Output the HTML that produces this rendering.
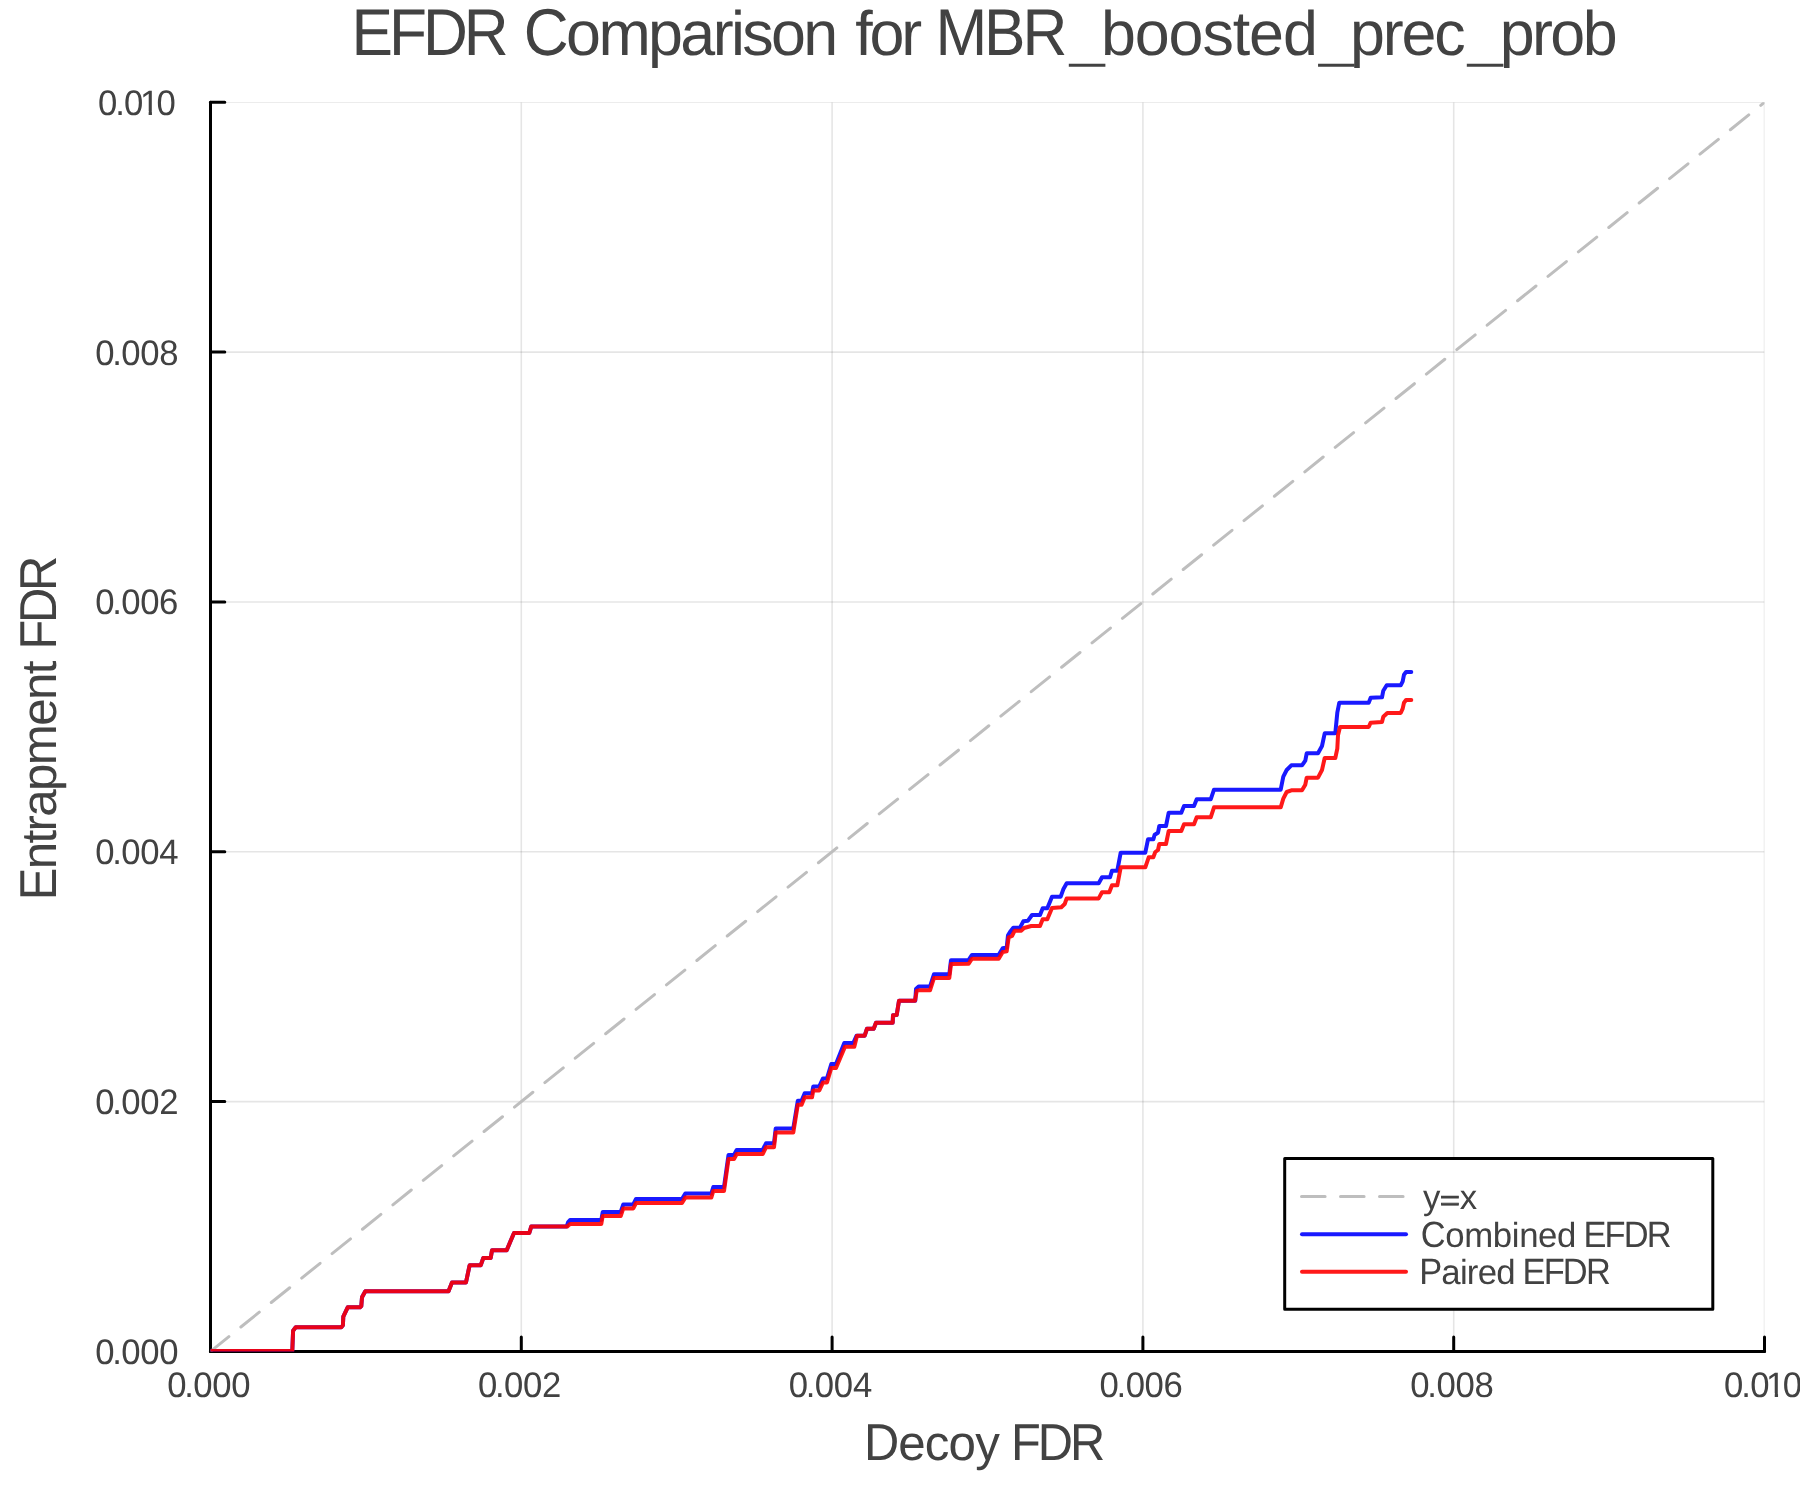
<!DOCTYPE html>
<html><head><meta charset="utf-8"><title>EFDR Comparison for MBR_boosted_prec_prob</title>
<style>html,body{margin:0;padding:0;background:#fff;overflow:hidden;}svg{display:block;font-family:"Liberation Sans",sans-serif;text-rendering:geometricPrecision;}</style></head><body>
<svg width="1800" height="1500" viewBox="0 0 1800 1500">
<rect width="1800" height="1500" fill="#ffffff"/>
<defs><clipPath id="pc"><rect x="210.5" y="102.3" width="1554.0" height="1249.1"/></clipPath>
<clipPath id="one"><path d="M-2 -40H30V-3.54H12.18V2H8.80V-3.54H-2Z"/></clipPath></defs>
<g clip-path="url(#pc)" stroke="#000" stroke-opacity="0.1" stroke-width="1.6" fill="none">
<path d="M521.30 102.3V1351.4"/><path d="M210.5 1101.58H1764.5"/>
<path d="M832.10 102.3V1351.4"/><path d="M210.5 851.76H1764.5"/>
<path d="M1142.90 102.3V1351.4"/><path d="M210.5 601.94H1764.5"/>
<path d="M1453.70 102.3V1351.4"/><path d="M210.5 352.12H1764.5"/>
<path d="M1764.50 102.3V1351.4"/><path d="M210.5 102.30H1764.5"/>
</g>
<g stroke="#000" stroke-width="3" fill="none" stroke-linecap="round">
<path d="M210.5 1351.4H1764.5"/>
<path d="M210.5 1351.4V102.3"/>
<path d="M210.50 1351.4v-14.3M210.5 1351.40h14.3M521.30 1351.4v-14.3M210.5 1101.58h14.3M832.10 1351.4v-14.3M210.5 851.76h14.3M1142.90 1351.4v-14.3M210.5 601.94h14.3M1453.70 1351.4v-14.3M210.5 352.12h14.3M1764.50 1351.4v-14.3M210.5 102.30h14.3"/>
</g>
<g clip-path="url(#pc)" fill="none" stroke-linejoin="round" stroke-linecap="round">
<path d="M210.5 1351.4L1764.5 102.3" stroke="#bebebe" stroke-width="3" stroke-dasharray="23.6 15.4"/>
<path d="M210.5 1351.0L292.3 1351.0L293.1 1330.7L295.7 1327.3L341.3 1327.3L342.9 1325.3L343.3 1316.7L347.7 1307.3L360.0 1307.3L361.3 1306.0L362.0 1297.3L365.3 1291.3L448.5 1291.3L452.0 1282.4L466.0 1282.4L469.6 1265.3L480.7 1265.3L483.3 1258.0L490.7 1258.0L492.0 1250.3L506.7 1250.3L514.0 1233.0L529.3 1233.0L531.3 1226.4L566.7 1226.4L568.2 1222.0L570.0 1220.0L601.3 1220.0L602.7 1212.0L620.7 1212.0L623.3 1204.4L633.3 1204.4L636.0 1199.0L682.0 1199.0L685.3 1193.6L711.3 1193.6L713.3 1187.0L724.0 1187.0L728.5 1155.0L734.0 1155.0L736.7 1150.0L762.7 1150.0L766.0 1143.3L774.0 1143.3L775.7 1128.4L793.3 1128.4L797.8 1100.7L801.6 1100.7L804.7 1093.3L812.0 1093.3L813.3 1086.4L819.3 1086.4L823.0 1078.4L827.0 1078.4L831.3 1064.0L836.0 1064.0L844.3 1043.0L853.3 1043.0L856.5 1035.7L864.7 1035.7L867.0 1028.7L873.7 1028.7L876.0 1022.7L892.7 1022.7L893.0 1015.3L896.7 1015.0L899.0 1000.7L915.3 1000.7L916.0 989.0L918.7 986.5L930.0 986.5L934.0 974.2L949.3 974.2L951.0 960.2L968.7 959.9L972.0 954.9L998.7 954.9L1002.7 948.2L1006.7 947.5L1008.0 935.3L1010.0 932.0L1013.3 927.7L1020.0 927.7L1023.3 921.3L1028.0 920.7L1032.0 915.0L1040.0 915.0L1042.7 908.3L1047.3 908.3L1052.0 896.7L1060.7 896.7L1063.3 889.3L1066.7 883.3L1098.7 883.3L1102.0 877.3L1110.0 877.3L1112.0 870.7L1117.3 870.7L1120.7 852.7L1145.3 852.7L1148.0 839.3L1153.3 839.3L1154.7 834.7L1158.0 832.7L1159.3 826.0L1166.0 826.0L1168.7 812.7L1181.3 812.7L1184.0 806.0L1194.0 806.0L1196.7 799.3L1210.7 799.3L1214.0 789.7L1280.7 789.7L1283.3 776.7L1286.7 770.0L1291.3 765.3L1302.0 765.3L1305.3 760.7L1306.7 753.3L1318.0 753.3L1322.0 746.0L1324.7 733.3L1335.3 733.3L1337.3 712.7L1339.3 702.7L1368.7 702.7L1370.7 697.7L1382.0 697.3L1383.3 690.7L1386.7 685.3L1400.7 685.3L1402.7 681.3L1404.0 674.7L1406.0 672.0L1411.3 672.0" stroke="#0000ff" stroke-opacity="0.9" stroke-width="4"/>
<path d="M210.5 1351.0L292.3 1351.0L293.1 1330.7L295.7 1327.3L341.3 1327.3L342.9 1325.3L343.3 1316.7L347.7 1307.3L360.0 1307.3L361.3 1306.0L362.0 1297.3L365.3 1291.3L448.5 1291.3L452.0 1282.4L466.0 1282.4L469.6 1265.3L480.7 1265.3L483.3 1258.0L490.7 1258.0L492.0 1250.3L506.7 1250.3L514.0 1233.0L529.3 1233.0L531.3 1226.4L567.3 1226.4L570.0 1224.0L601.3 1224.0L602.7 1216.0L620.7 1216.0L623.3 1208.4L633.3 1208.4L636.0 1203.0L682.0 1203.0L685.3 1197.6L711.3 1197.6L713.3 1191.0L724.0 1191.0L728.5 1159.0L734.0 1159.0L736.7 1154.0L762.7 1154.0L766.0 1147.3L774.0 1147.3L775.7 1132.4L793.3 1132.4L797.8 1104.7L801.6 1104.7L804.7 1097.3L812.0 1097.3L813.3 1090.4L819.3 1090.4L823.0 1082.4L827.0 1082.4L831.3 1068.0L836.0 1068.0L845.0 1046.7L854.3 1046.7L857.0 1035.7L864.7 1035.7L867.0 1028.7L873.7 1028.7L876.0 1022.7L892.7 1022.7L893.0 1015.3L896.7 1015.0L899.0 1000.7L915.0 1000.7L916.7 991.0L918.7 990.3L930.0 990.3L934.0 978.0L949.3 978.0L951.0 964.0L968.7 963.7L972.0 958.7L998.7 958.7L1002.7 952.0L1006.7 951.3L1008.7 937.3L1012.0 936.0L1014.7 930.7L1021.3 930.7L1024.0 928.0L1031.3 926.0L1040.0 926.0L1042.7 919.3L1047.3 919.3L1052.0 908.0L1061.3 907.3L1064.7 904.0L1066.7 898.4L1098.7 898.4L1102.0 892.3L1109.3 892.3L1112.0 885.3L1117.3 885.3L1120.7 867.3L1145.3 867.3L1148.7 857.3L1153.3 857.3L1155.3 852.0L1158.0 850.0L1159.3 844.0L1166.0 844.0L1168.7 831.0L1181.3 831.0L1184.0 824.3L1194.0 824.3L1196.7 817.3L1210.7 817.3L1214.0 807.3L1280.7 807.3L1283.3 798.7L1286.7 792.0L1291.3 790.3L1302.0 790.3L1305.3 784.7L1306.7 777.7L1318.0 777.7L1322.0 770.0L1324.7 758.0L1335.3 758.0L1337.3 748.7L1338.0 735.3L1340.0 727.0L1368.7 727.0L1370.7 722.7L1382.0 722.0L1383.3 716.7L1387.3 713.0L1400.7 713.0L1402.7 708.7L1404.0 702.7L1406.0 700.0L1411.3 700.0" stroke="#ff0000" stroke-opacity="0.9" stroke-width="4"/>
</g>
<rect x="1284.7" y="1158.4" width="428.1" height="150.9" fill="#fff" stroke="#000" stroke-width="3" stroke-linejoin="round"/>
<g fill="none" stroke-linecap="round">
<path d="M1301.5 1196.4H1406.5" stroke="#bebebe" stroke-width="3" stroke-dasharray="23.6 15.4"/>
<path d="M1302 1234.2H1406" stroke="#0000ff" stroke-opacity="0.9" stroke-width="4"/>
<path d="M1302 1271.8H1406" stroke="#ff0000" stroke-opacity="0.9" stroke-width="4"/>
</g>
<g opacity="0.999">
<text transform="translate(96.30,1363.90) scale(0.980,1)" x="-1.17 16.20 25.46 44.80 64.19" y="0" font-size="35.40" fill="#424242">0.000</text>
<text transform="translate(96.30,1114.08) scale(0.980,1)" x="-1.17 16.20 25.46 44.80 64.19" y="0" font-size="35.40" fill="#424242">0.002</text>
<text transform="translate(96.30,864.26) scale(0.980,1)" x="-1.17 16.20 25.46 44.80 64.30" y="0" font-size="35.40" fill="#424242">0.004</text>
<text transform="translate(96.30,614.44) scale(0.980,1)" x="-1.17 16.20 25.46 44.80 64.07" y="0" font-size="35.40" fill="#424242">0.006</text>
<text transform="translate(96.30,364.62) scale(0.980,1)" x="-1.17 16.20 25.46 44.80 64.19" y="0" font-size="35.40" fill="#424242">0.008</text>
<text transform="translate(99.30,114.80) scale(0.980,1)" x="-1.32 16.20 25.31" y="0" font-size="35.40" fill="#424242">0.0</text><text transform="translate(140.01,114.80) scale(0.980,1)" x="0" y="0" font-size="35.40" fill="#424242" clip-path="url(#one)">1</text><text transform="translate(99.30,114.80) scale(0.980,1)" x="58.47" y="0" font-size="35.40" fill="#424242">0</text>
<text transform="translate(168.30,1396.85) scale(0.980,1)" x="-1.17 16.20 25.46 44.80 64.19" y="0" font-size="35.40" fill="#424242">0.000</text>
<text transform="translate(479.10,1396.85) scale(0.980,1)" x="-1.17 16.20 25.46 44.80 64.19" y="0" font-size="35.40" fill="#424242">0.002</text>
<text transform="translate(789.90,1396.85) scale(0.980,1)" x="-1.17 16.20 25.46 44.80 64.30" y="0" font-size="35.40" fill="#424242">0.004</text>
<text transform="translate(1100.70,1396.85) scale(0.980,1)" x="-1.17 16.20 25.46 44.80 64.07" y="0" font-size="35.40" fill="#424242">0.006</text>
<text transform="translate(1411.50,1396.85) scale(0.980,1)" x="-1.17 16.20 25.46 44.80 64.19" y="0" font-size="35.40" fill="#424242">0.008</text>
<text transform="translate(1725.40,1396.85) scale(0.980,1)" x="-1.32 16.20 25.31" y="0" font-size="35.40" fill="#424242">0.0</text><text transform="translate(1766.11,1396.85) scale(0.980,1)" x="0" y="0" font-size="35.40" fill="#424242" clip-path="url(#one)">1</text><text transform="translate(1725.40,1396.85) scale(0.980,1)" x="58.47" y="0" font-size="35.40" fill="#424242">0</text>
<text transform="translate(351.60,54.80) scale(0.9400,1.000)" x="0.00 39.81 75.91 119.37" y="0" font-size="66.10" fill="#424242">EFDR</text>
<text transform="translate(523.84,54.80) scale(0.9400,1.000)" x="0.00" y="0" font-size="66.10" fill="#424242">C</text>
<text transform="translate(566.09,54.80)" x="0.00 32.30 81.98 114.28 146.58 164.87 176.19 204.96 237.26" y="0" font-size="62.79" fill="#424242">omparison</text>
<text transform="translate(855.31,54.80)" x="0.00 14.27 46.02" y="0" font-size="62.79" fill="#424242">for</text>
<text transform="translate(935.40,54.80) scale(0.9400,1.000)" x="0.00 51.82 92.67" y="0" font-size="66.10" fill="#424242">MBR</text>
<text transform="translate(1069.75,56.87) scale(1.0000,0.780)" x="0.00" y="0" font-size="62.79" fill="#424242">_</text>
<text transform="translate(1100.95,54.80)" x="0.00 33.83 67.66 101.49 131.79 148.14 181.97" y="0" font-size="62.79" fill="#424242">boosted</text>
<text transform="translate(1318.95,56.87) scale(1.0000,0.780)" x="0.00" y="0" font-size="62.79" fill="#424242">_</text>
<text transform="translate(1349.95,54.80)" x="0.00 32.77 51.53 84.31" y="0" font-size="62.79" fill="#424242">prec</text>
<text transform="translate(1467.65,56.87) scale(1.0000,0.780)" x="0.00" y="0" font-size="62.79" fill="#424242">_</text>
<text transform="translate(1499.65,54.80)" x="0.00 32.36 50.70 83.06" y="0" font-size="62.79" fill="#424242">prob</text>
<text transform="translate(864.00,1459.70) scale(0.9400,1.000)" x="0.00" y="0" font-size="51.90" fill="#424242">D</text>
<text transform="translate(898.33,1459.70)" x="0.00 26.53 50.28 76.81" y="0" font-size="49.30" fill="#424242">ecoy</text>
<text transform="translate(1011.00,1459.70) scale(0.9400,1.000)" x="0.00 28.51 62.80" y="0" font-size="51.90" fill="#424242">FDR</text>
<text transform="translate(56.00,900.20) rotate(-90) scale(0.9400,1.000)" x="0.00" y="0" font-size="51.90" fill="#424242">E</text>
<text transform="translate(56.00,869.33) rotate(-90)" x="0.00 25.76 37.79 52.55 78.31 104.06 143.47 169.23 194.99" y="0" font-size="49.30" fill="#424242">ntrapment</text>
<text transform="translate(56.00,649.60) rotate(-90) scale(0.9400,1.000)" x="0.00 28.30 62.38" y="0" font-size="51.90" fill="#424242">FDR</text>
<text transform="translate(1422.92,1208.70)" x="0.00" y="0" font-size="34.77" fill="#424242">y</text>
<text transform="translate(1439.84,1209.97) scale(1.0000,0.820)" x="0.00" y="0" font-size="34.77" fill="#424242" stroke="#424242" stroke-width="0.9">=</text>
<text transform="translate(1459.69,1208.70)" x="0.00" y="0" font-size="34.77" fill="#424242">x</text>
<text transform="translate(1420.75,1246.70) scale(0.9400,1.000)" x="0.00" y="0" font-size="36.60" fill="#424242">C</text>
<text transform="translate(1445.24,1246.70)" x="0.00 18.98 47.58 66.55 73.92 92.89 111.87" y="0" font-size="34.77" fill="#424242">ombined</text>
<text transform="translate(1583.48,1246.70) scale(0.9400,1.000)" x="0.00 22.45 42.84 67.31" y="0" font-size="36.60" fill="#424242">EFDR</text>
<text transform="translate(1419.18,1283.70) scale(0.9400,1.000)" x="0.00" y="0" font-size="36.60" fill="#424242">P</text>
<text transform="translate(1441.35,1283.70)" x="0.00 18.56 25.50 36.30 54.86" y="0" font-size="34.77" fill="#424242">aired</text>
<text transform="translate(1522.48,1283.70) scale(0.9400,1.000)" x="0.00 22.52 42.98 67.52" y="0" font-size="36.60" fill="#424242">EFDR</text>
</g>
</svg></body></html>
